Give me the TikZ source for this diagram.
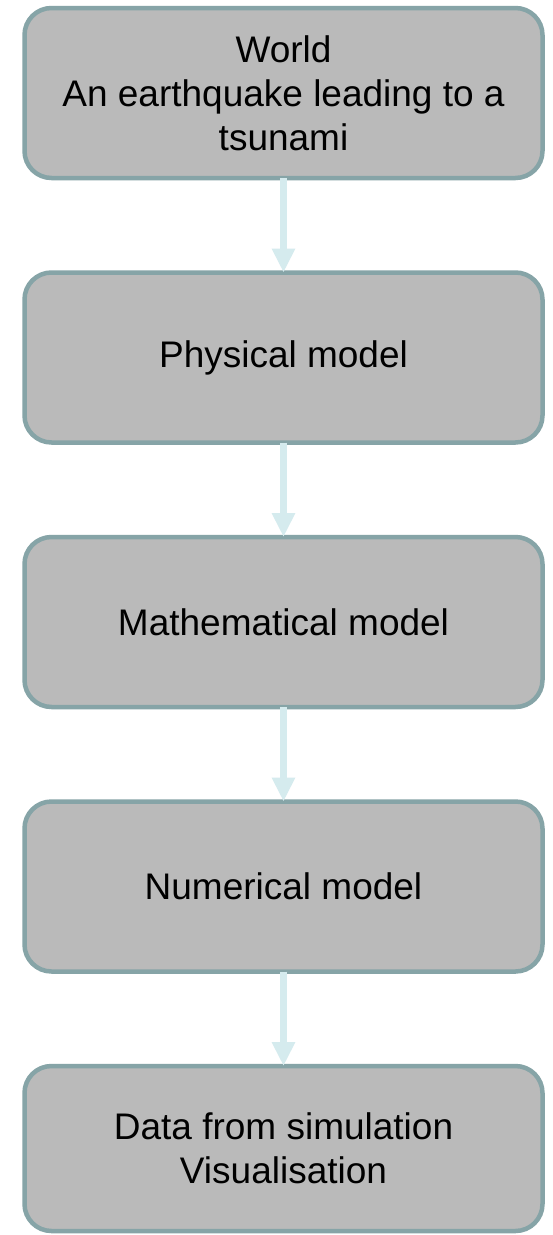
\documentclass[tikz,border=0pt]{standalone}
\usepackage{fontspec}
\setmainfont{Liberation Sans}
\usetikzlibrary{arrows.meta,positioning}
\definecolor{boxGrey}{RGB}{186, 186, 186}
\definecolor{edgeTeal}{RGB}{134, 164, 167}
\definecolor{flowCyan}{RGB}{213, 235, 238}
\tikzset{
    stagebox/.style={draw=edgeTeal, fill=boxGrey, line width=4.5pt, rounded corners=27pt,
        minimum width=518pt, minimum height=170pt, outer sep=0pt, align=center,
        font=\fontsize{37pt}{44pt}\selectfont},
    flowarrow/.style={draw=flowCyan, line width=7pt, -{Triangle[width=22pt,length=24pt]}}
}

\begin{document}
\begin{tikzpicture}[node distance=94.5pt]
    \useasboundingbox[fill=white] (0,0) rectangle (552pt,-1235pt);
    \node[stagebox] (world) at (283.5pt,-93pt) {World\\An earthquake leading to a\\tsunami};
    \node[stagebox, below=of world] (physical) {Physical model};
    \node[stagebox, below=of physical] (mathematical) {Mathematical model};
    \node[stagebox, below=of mathematical] (numerical) {Numerical model};
    \node[stagebox, below=of numerical, minimum height=165pt] (data) {Data from simulation\\Visualisation};
    % flow between the stages
    \draw[flowarrow] (world.south) -- (physical.north);
    \draw[flowarrow] (physical.south) -- (mathematical.north);
    \draw[flowarrow] (mathematical.south) -- (numerical.north);
    \draw[flowarrow] (numerical.south) -- (data.north);
\end{tikzpicture}
\end{document}
